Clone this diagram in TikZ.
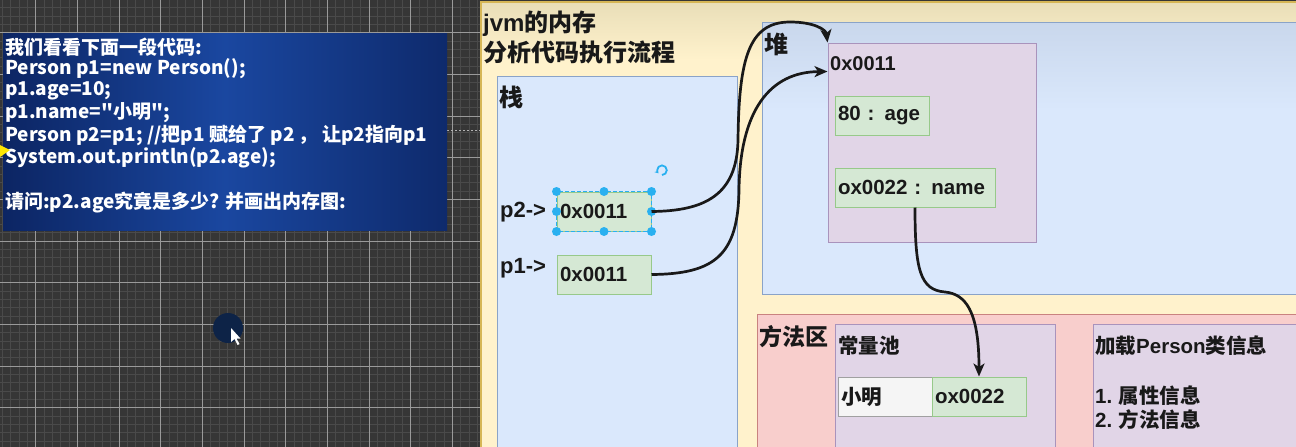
\documentclass[tikz,border=0pt]{standalone}
\usepackage{fontspec}
\setmainfont{Noto Sans CJK SC}
\newfontfamily\codefont{Noto Sans CJK SC}[Ligatures=TeXOff]
\newfontfamily\lat{Liberation Sans}
\usetikzlibrary{arrows.meta}
\definecolor{bgdark}{HTML}{363636}
\definecolor{gridminor}{HTML}{4A4A4A}
\definecolor{gridmajor}{HTML}{9A9A9A}
\definecolor{codeA}{HTML}{0C2563}
\definecolor{codeB}{HTML}{1A47A0}
\definecolor{codeC}{HTML}{0E2A6C}
\definecolor{yelfill}{HTML}{FFF2CC}
\definecolor{yeltop}{HTML}{E9DEB8}
\definecolor{yelline}{HTML}{D6B656}
\definecolor{bluefill}{HTML}{DAE8FC}
\definecolor{bluetop}{HTML}{C9D7EC}
\definecolor{blueline}{HTML}{8AA3C8}
\definecolor{greenfill}{HTML}{D5E8D4}
\definecolor{greenline}{HTML}{97C98A}
\definecolor{purplefill}{HTML}{E1D5E7}
\definecolor{purpleline}{HTML}{A993BC}
\definecolor{redfill}{HTML}{F8CECC}
\definecolor{redline}{HTML}{C9827F}
\definecolor{greyfill}{HTML}{F5F5F5}
\definecolor{greyline}{HTML}{A0A0A0}
\definecolor{handle}{HTML}{29B0F0}
\definecolor{cursordark}{HTML}{0D2347}
\tikzset{
  codetext/.style={anchor=west, inner sep=0pt, text=white, font=\codefont\bfseries\fontsize{19}{22}\selectfont},
  biglabel/.style={anchor=west, inner sep=0pt, text=black!90, font=\bfseries\fontsize{24}{28}\selectfont},
  midlabel/.style={anchor=west, inner sep=0pt, text=black!90, font=\bfseries\fontsize{20.5}{24}\selectfont},
  ptrlabel/.style={anchor=west, inner sep=0pt, text=black!90, font=\lat\bfseries\fontsize{22}{26}\selectfont},
  cell/.style={draw=greenline, fill=greenfill, line width=1pt, minimum height=39pt,
     align=left, inner xsep=3pt, inner ysep=0pt, text=black!90,
     font=\lat\bfseries\fontsize{20.5}{24}\selectfont},
  region/.style={line width=1pt},
  link/.style={line width=2.7pt, black!90, -{Stealth[length=13pt,width=11pt,inset=3.5pt]}},
  hdl/.style={circle, fill=handle, inner sep=0pt, minimum size=9pt},
}
\begin{document}
\begin{tikzpicture}[x=1pt,y=-1pt]
\useasboundingbox (0,0) rectangle (1296,447);
% dark grid background
\fill[bgdark] (0,0) rectangle (1296,447);
\foreach \i in {0,...,58} \draw[gridminor, line width=0.8pt] ({-6+\i*8.3333},0) -- ++(0,447);
\foreach \j in {0,...,55} \draw[gridminor, line width=0.8pt] (0,{-9+\j*8.3333}) -- ++(1296,0);
\foreach \i in {0,...,11} \draw[gridmajor, line width=1pt] ({-6+\i*41.667},0) -- ++(0,447);
\foreach \j in {0,...,11} \draw[gridmajor, line width=1pt] (0,{-9+\j*41.667}) -- ++(1296,0);
% guide line
\draw[gray!60, line width=0.8pt, dash pattern=on 2pt off 2pt] (447,130) -- (481,130);
% code panel
\shade[left color=codeA, right color=codeC, middle color=codeB] (3,33) rectangle (447,230);
\node[codetext] (c1) at (5,47) {我们看看下面一段代码:};
\node[codetext] (c2) at (5,69) {Person p1=new Person();};
\node[codetext] (c3) at (5,91) {p1.age=10;};
\node[codetext] (c4) at (5,113) {p1.name="小明";};
\node[codetext] (c5) at (5,135.5) {Person p2=p1; //把p1 赋给了 p2 ， 让p2指向p1};
\node[codetext] (c6) at (5,158) {System.out.println(p2.age);};
\node[codetext] (c7) at (5,203) {请问:p2.age究竟是多少? 并画出内存图:};
% yellow cursor mark
\fill[yellow!90!orange] (0,145) -- (10,150) -- (0,157) -- cycle;
% mouse cursor
\fill[cursordark] (228,328) circle (15);
\fill[white] (231,328) -- (231,342) -- (234.5,339) -- (237.5,345) -- (239.5,344) -- (236.5,338.5) -- (240.5,338.5) -- cycle;
% JVM panel
\fill[yelfill] (481,2) rectangle (1300,450);
\shade[top color=yeltop, bottom color=yelfill] (481,2) rectangle (1300,60);
\draw[yelline, line width=1.2pt] (481,450) -- (481,2) -- (1300,2);
\node[biglabel] (t1) at (483,24) {{\lat jvm}的内存};
\node[biglabel] (t2) at (483,52) {分析代码执行流程};
% stack
\draw[region, draw=blueline, fill=bluefill] (497,76) rectangle (737,460);
\node[biglabel] (stk) at (499,97) {栈};
\node[ptrlabel] (p2lbl) at (500,212) {p2->};
\node[ptrlabel] (p1lbl) at (500,268) {p1->};
\node[cell, minimum width=94pt, text width=88pt] (p2box) at (604,211.5) {0x0011};
\node[cell, minimum width=94pt, text width=88pt] (p1box) at (604,274.5) {0x0011};
% selection decoration on p2box
\draw[handle, line width=0.9pt, dash pattern=on 4pt off 2pt] (p2box.north west) rectangle (p2box.south east);
\foreach \a in {north west,north,north east,west,east,south west,south,south east}
  \node[hdl] (h-\a) at (p2box.\a) {};
\draw[handle, line width=1.8pt, -{Stealth[length=3.5pt,width=4.5pt]}] (662,175) arc[start angle=90, end angle=-220, radius=4.8];
% heap
\fill[bluefill] (762,22) rectangle (1300,294);
\shade[top color=bluetop, bottom color=bluefill] (762,22) rectangle (1300,110);
\draw[region, draw=blueline] (1300,22) -- (762,22) -- (762,294) -- (1300,294);
\node[biglabel] (heap) at (764,44) {堆};
\node[region, draw=purpleline, fill=purplefill, minimum width=208pt, minimum height=199pt, inner sep=0pt] (obj) at (932,142.5) {};
\node[midlabel, font=\lat\bfseries\fontsize{20}{24}\selectfont] (objaddr) at (830,64) {0x0011};
\node[cell, minimum width=94pt, text width=88pt] (age) at (882,115.5) {80 : age};
\node[cell, minimum width=160pt, text width=154pt] (name) at (915,187.5) {ox0022 : name};
% method area
\draw[region, draw=redline, fill=redfill] (1300,314) -- (757,314) -- (757,460);
\fill[redfill] (757.5,314.5) rectangle (1300,460);
\node[biglabel, font=\bfseries\fontsize{23}{28}\selectfont] (ma) at (759,337) {方法区};
\draw[region, draw=purpleline, fill=purplefill] (835,460) -- (835,324) -- (1055,324) -- (1055,460);
\node[midlabel] (pool) at (838,346) {常量池};
\node[cell, draw=greyline, fill=greyfill, font=\bfseries\fontsize{20.5}{24}\selectfont, minimum width=94pt, text width=88pt] (xm) at (885,396.5) {小明};
\node[cell, minimum width=94pt, text width=88pt] (poolval) at (979,396.5) {ox0022};
\draw[region, draw=purpleline, fill=purplefill] (1093,460) -- (1093,324) -- (1300,324);
\fill[purplefill] (1093.5,324.5) rectangle (1300,460);
\node[midlabel] (cls) at (1095,346) {加载{\lat Person}类信息};
\node[midlabel] (cls1) at (1095,396) {{\lat 1.} 属性信息};
\node[midlabel] (cls2) at (1095,420) {{\lat 2.} 方法信息};
% connectors
\draw[link] (p2box.east) .. controls (705,211) and (737,195) .. (738,140)
   .. controls (739,60) and (748,22) .. (790,22)
   .. controls (815,22) and (826,30) .. (obj.north west);
\draw[link] (p1box.east) .. controls (715,274) and (738,255) .. (739,190)
   .. controls (740,110) and (770,72) .. ([yshift=-29pt]obj.north west);
\draw[link] (name.south) .. controls (915,270) and (920,290) .. (945,292)
   .. controls (965,294) and (979,310) .. (poolval.north);
\end{tikzpicture}
\end{document}
